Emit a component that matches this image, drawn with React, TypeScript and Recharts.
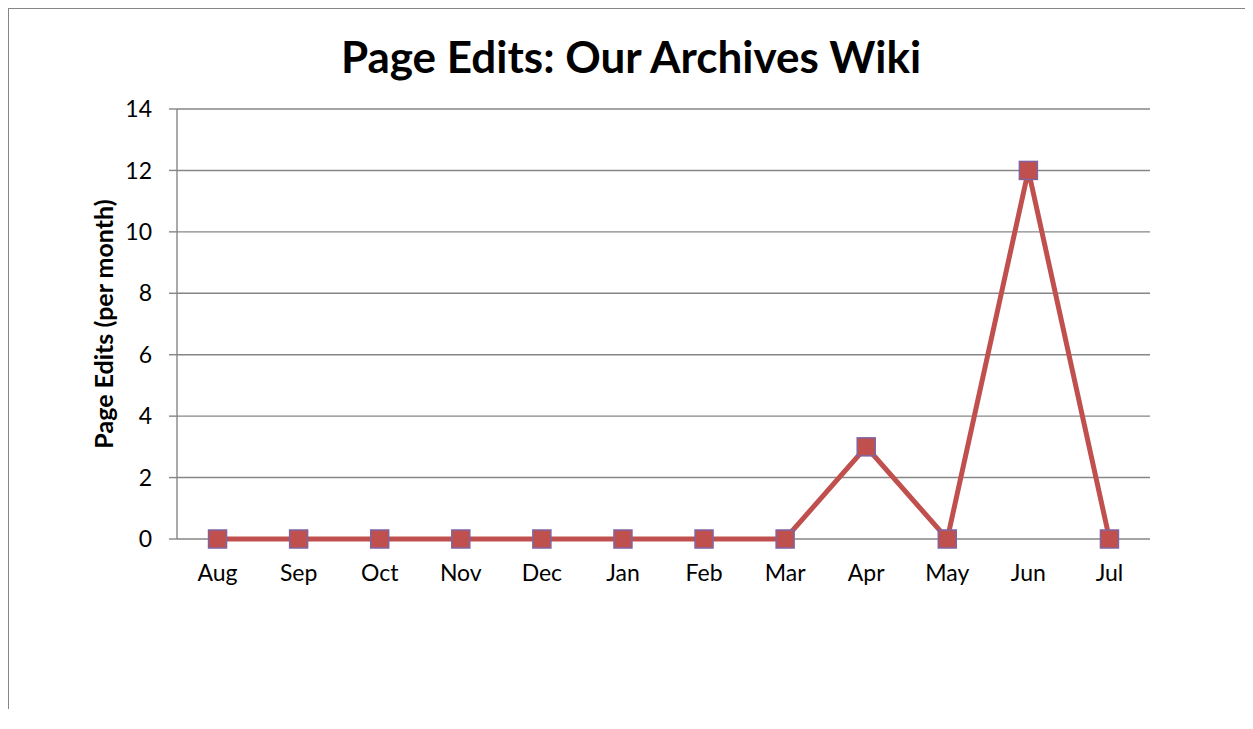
import { CartesianGrid, Line, LineChart, XAxis, YAxis } from "recharts"

const months = ["Aug", "Sep", "Oct", "Nov", "Dec", "Jan", "Feb", "Mar", "Apr", "May", "Jun", "Jul"]
const pageEdits = [0, 0, 0, 0, 0, 0, 0, 0, 3, 0, 12, 0]
const yTicks = [0, 2, 4, 6, 8, 10, 12, 14]

const FONT = "Lato, 'Open Sans', sans-serif"
const GRID = "#868686"
const LINE = "#C0504D"
const MARKER_EDGE = "#8064A2"

const data = months.map((month, i) => ({ idx: i, month, edits: pageEdits[i] }))
// tick marks sit between categories, like Excel's category axis
const boundaryTicks = months.map((_, i) => i - 0.5).concat(months.length - 0.5)
const domain: [number, number] = [-0.5, months.length - 0.5]

function SquareDot(props: any) {
  const { cx, cy, index } = props
  if (cx == null || cy == null) return null
  return (
    <rect
      key={`dot-${index}`}
      x={cx - 9}
      y={cy - 9}
      width={18}
      height={18}
      fill={LINE}
      stroke={MARKER_EDGE}
      strokeWidth={1.5}
    />
  )
}

function YTitle(props: any) {
  const { viewBox } = props
  const cx = 94
  const cy = viewBox.y + viewBox.height / 2
  return (
    <text
      x={cx}
      y={cy}
      transform={`rotate(-90 ${cx} ${cy})`}
      textAnchor="middle"
      dominantBaseline="central"
      fontFamily={FONT}
      fontWeight="bold"
      fontSize={25}
      fill="#000"
    >
      Page Edits (per month)
    </text>
  )
}

export default function App() {
  return (
    <div
      style={{
        position: "relative",
        width: 1244,
        height: 700,
        borderTop: `1px solid ${GRID}`,
        borderLeft: `1px solid ${GRID}`,
        background: "#fff",
      }}
    >
      <div
        style={{
          position: "absolute",
          top: 25,
          left: 0,
          width: 1244,
          textAlign: "center",
          fontFamily: FONT,
          fontWeight: "bold",
          fontSize: 44,
          lineHeight: "44px",
          color: "#000",
        }}
      >
        Page Edits: Our Archives Wiki
      </div>
      <LineChart width={1244} height={700} data={data} margin={{ top: 100, right: 103, bottom: 140, left: 0 }}>
        <CartesianGrid vertical={false} stroke={GRID} strokeWidth={1.4} />
        <XAxis
          xAxisId="bounds"
          type="number"
          dataKey="idx"
          domain={domain}
          ticks={boundaryTicks}
          tick={false}
          tickSize={8}
          height={0}
          stroke={GRID}
          axisLine={{ stroke: GRID, strokeWidth: 1.4 }}
          tickLine={{ stroke: GRID, strokeWidth: 1.4 }}
        />
        <XAxis
          xAxisId="labels"
          type="number"
          dataKey="idx"
          domain={domain}
          ticks={data.map((d) => d.idx)}
          tickFormatter={(v) => months[v]}
          axisLine={false}
          tickLine={false}
          tickSize={0}
          tickMargin={26}
          height={30}
          tick={{ fontFamily: FONT, fontSize: 23, fill: "#000" }}
        />
        <YAxis
          domain={[0, 14]}
          ticks={yTicks}
          width={168}
          tickSize={8}
          tickMargin={17}
          axisLine={{ stroke: GRID, strokeWidth: 1.4 }}
          tickLine={{ stroke: GRID, strokeWidth: 1.4 }}
          tick={{ fontFamily: FONT, fontSize: 23, fill: "#000" }}
          label={<YTitle />}
        />
        <Line
          xAxisId="labels"
          type="linear"
          dataKey="edits"
          stroke={LINE}
          strokeWidth={5}
          dot={<SquareDot />}
          activeDot={false}
          isAnimationActive={false}
        />
      </LineChart>
    </div>
  )
}
